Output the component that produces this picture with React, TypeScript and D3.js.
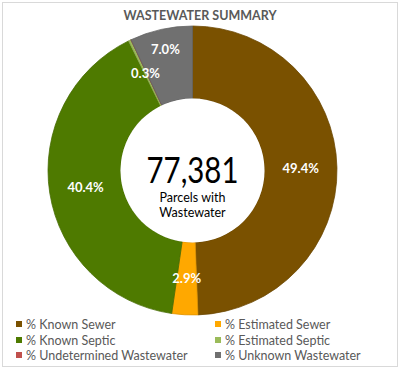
import React from "react";
import * as d3 from "d3";

const categories = [
  "% Known Sewer",
  "% Estimated Sewer",
  "% Known Septic",
  "% Estimated Septic",
  "% Undetermined Wastewater",
  "% Unknown Wastewater",
];
const values = [49.4, 2.9, 40.4, 0.3, 0.0, 7.0];
const colors = ["#7A5100", "#FFA800", "#4E7A00", "#9BBB59", "#C0504D", "#707070"];
const totalParcels = 77381;
const title = "WASTEWATER SUMMARY";

const W = 400;
const H = 369;
const cx = 192.5;
const cy = 170.5;
const outerR = 144.5;
const innerR = 72;
const font = "Lato, 'Open Sans', sans-serif";

export default function App() {
  const pie = d3.pie<number>().sort(null).value((d) => d);
  const arcs = pie(values);
  const arc = d3.arc<d3.PieArcDatum<number>>().innerRadius(innerR).outerRadius(outerR);
  const labelR = (innerR + outerR) / 2;

  // label positions with simple overlap avoidance
  const labels: { x: number; y: number; text: string }[] = [];
  arcs.forEach((a) => {
    if (a.data <= 0) return;
    const ang = (a.startAngle + a.endAngle) / 2;
    let r = labelR;
    let x = cx + r * Math.sin(ang);
    let y = cy - r * Math.cos(ang);
    const prev = labels[labels.length - 1];
    if (prev) {
      while (Math.hypot(x - prev.x, y - prev.y) < 30 && r < outerR) {
        r += 2;
        x = cx + r * Math.sin(ang);
        y = cy - r * Math.cos(ang);
      }
    }
    labels.push({ x, y, text: d3.format(".1f")(a.data) + "%" });
  });

  const legendRows = [325, 341, 356];
  const legendCols = [16, 215];

  return (
    <svg
      width={W}
      height={H}
      style={{ position: "absolute", left: 0, top: 0, background: "#fff" }}
    >
      <rect x={2.5} y={2.5} width={W - 5} height={H - 5} fill="#fff" stroke="#D9D9D9" />
      <text
        x={200}
        y={20}
        textAnchor="middle"
        fontFamily={font}
        fontWeight="bold"
        fontSize={12.5}
        fill="#595959"
      >
        {title}
      </text>
      <g>
        {arcs.map((a, i) => (
          <path
            key={i}
            d={arc(a) || ""}
            transform={`translate(${cx},${cy})`}
            fill={colors[i]}
            stroke={d3.color(colors[i])!.darker(0.4).toString()}
            strokeWidth={0.75}
          />
        ))}
      </g>
      <circle cx={cx} cy={cy} r={innerR} fill="#fff" />
      {labels.map((l, i) => (
        <text
          key={i}
          x={l.x}
          y={l.y}
          dy="0.35em"
          textAnchor="middle"
          fontFamily={font}
          fontWeight="bold"
          fontSize={13}
          fill="#fff"
        >
          {l.text}
        </text>
      ))}
      <text
        x={cx}
        y={183}
        textAnchor="middle"
        fontFamily={font}
        fontSize={37}
        fill="#000"
        textLength={92}
        lengthAdjust="spacingAndGlyphs"
      >
        {d3.format(",")(totalParcels)}
      </text>
      <text x={cx} y={202} textAnchor="middle" fontFamily={font} fontSize={12.5} fill="#000">
        Parcels with
      </text>
      <text x={cx} y={217} textAnchor="middle" fontFamily={font} fontSize={12.5} fill="#000">
        Wastewater
      </text>
      {categories.map((c, i) => {
        const col = i % 2;
        const row = Math.floor(i / 2);
        const x = legendCols[col];
        const y = legendRows[row];
        return (
          <g key={c}>
            <rect x={x} y={y - 4} width={6} height={6} fill={colors[i]} />
            <text
              x={x + 10}
              y={y}
              dy="0.35em"
              fontFamily={font}
              fontSize={12.5}
              fill="#595959"
            >
              {c}
            </text>
          </g>
        );
      })}
    </svg>
  );
}
